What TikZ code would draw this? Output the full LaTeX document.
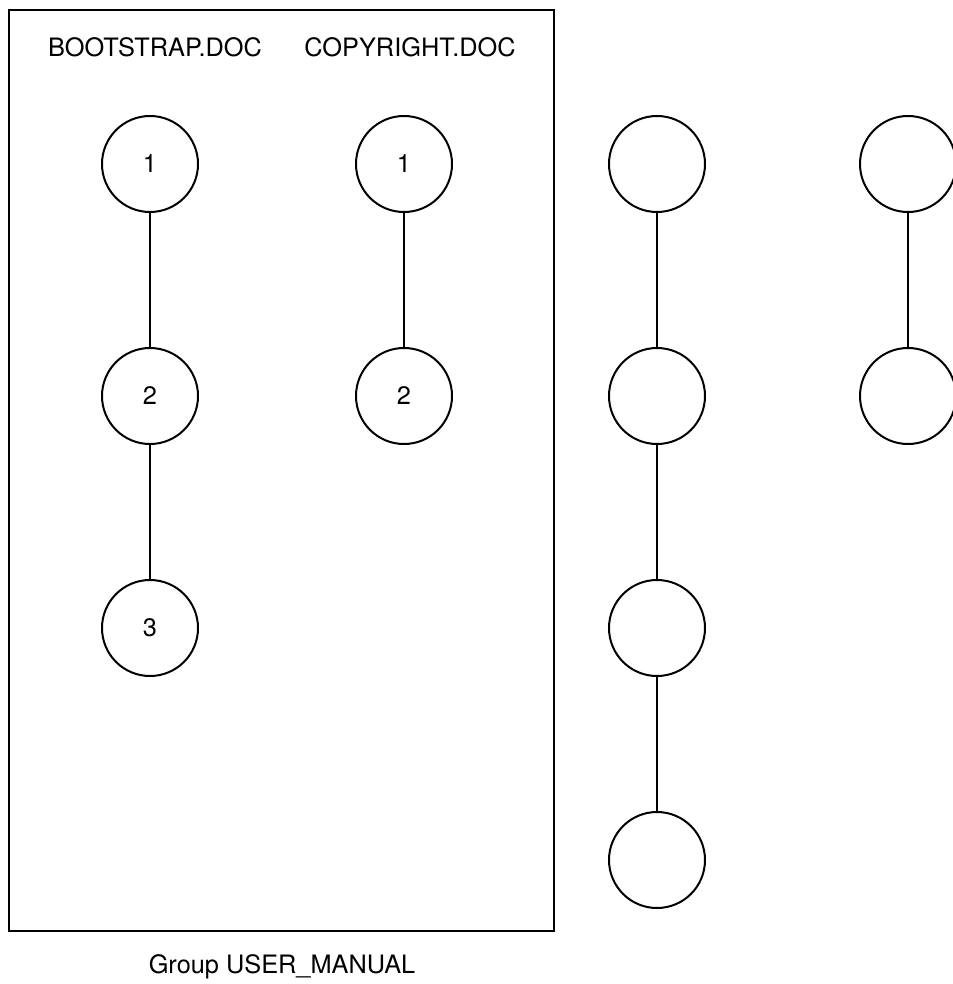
\documentclass[tikz,border=0pt]{standalone}
\usepackage{fontspec}
\setmainfont{TeX Gyre Heros}
\usetikzlibrary{positioning}

\begin{document}
\begin{tikzpicture}[x=0.75pt,y=-0.75pt,line width=1.5pt,
  pg/.style={circle,draw,minimum size=72pt,inner sep=0pt,font=\fontsize{19}{23}\selectfont},
  lbl/.style={font=\fontsize{19}{23}\selectfont}]
\useasboundingbox (0,0) rectangle (952,984);
\draw (9,10) rectangle (554,931);
\node[lbl](bootdoc) at (155,47) {BOOTSTRAP.DOC};
\node[lbl](copydoc) at (410,47) {COPYRIGHT.DOC};
\node[lbl](grp) at (282,967) {Group USER\_MANUAL};
\foreach \n/\y in %
{1/164,2/396,3/628} {
   \node[pg](b\n) at (150,\y) {\n};
}
\foreach \n/\y in %
{1/164,2/396} {
   \node[pg](c\n) at (404,\y) {\n};
}
\foreach \n/\y in %
{1/164,2/396,3/628,4/860} {
   \node[pg](u\n) at (657,\y) {};
}
\foreach \n/\y in %
{1/164,2/396} {
   \node[pg](v\n) at (908,\y) {};
}
\draw (b1) -- (b2) -- (b3);
\draw (c1) -- (c2);
\draw (u1) -- (u2) -- (u3) -- (u4);
\draw (v1) -- (v2);
\end{tikzpicture}
\end{document}
